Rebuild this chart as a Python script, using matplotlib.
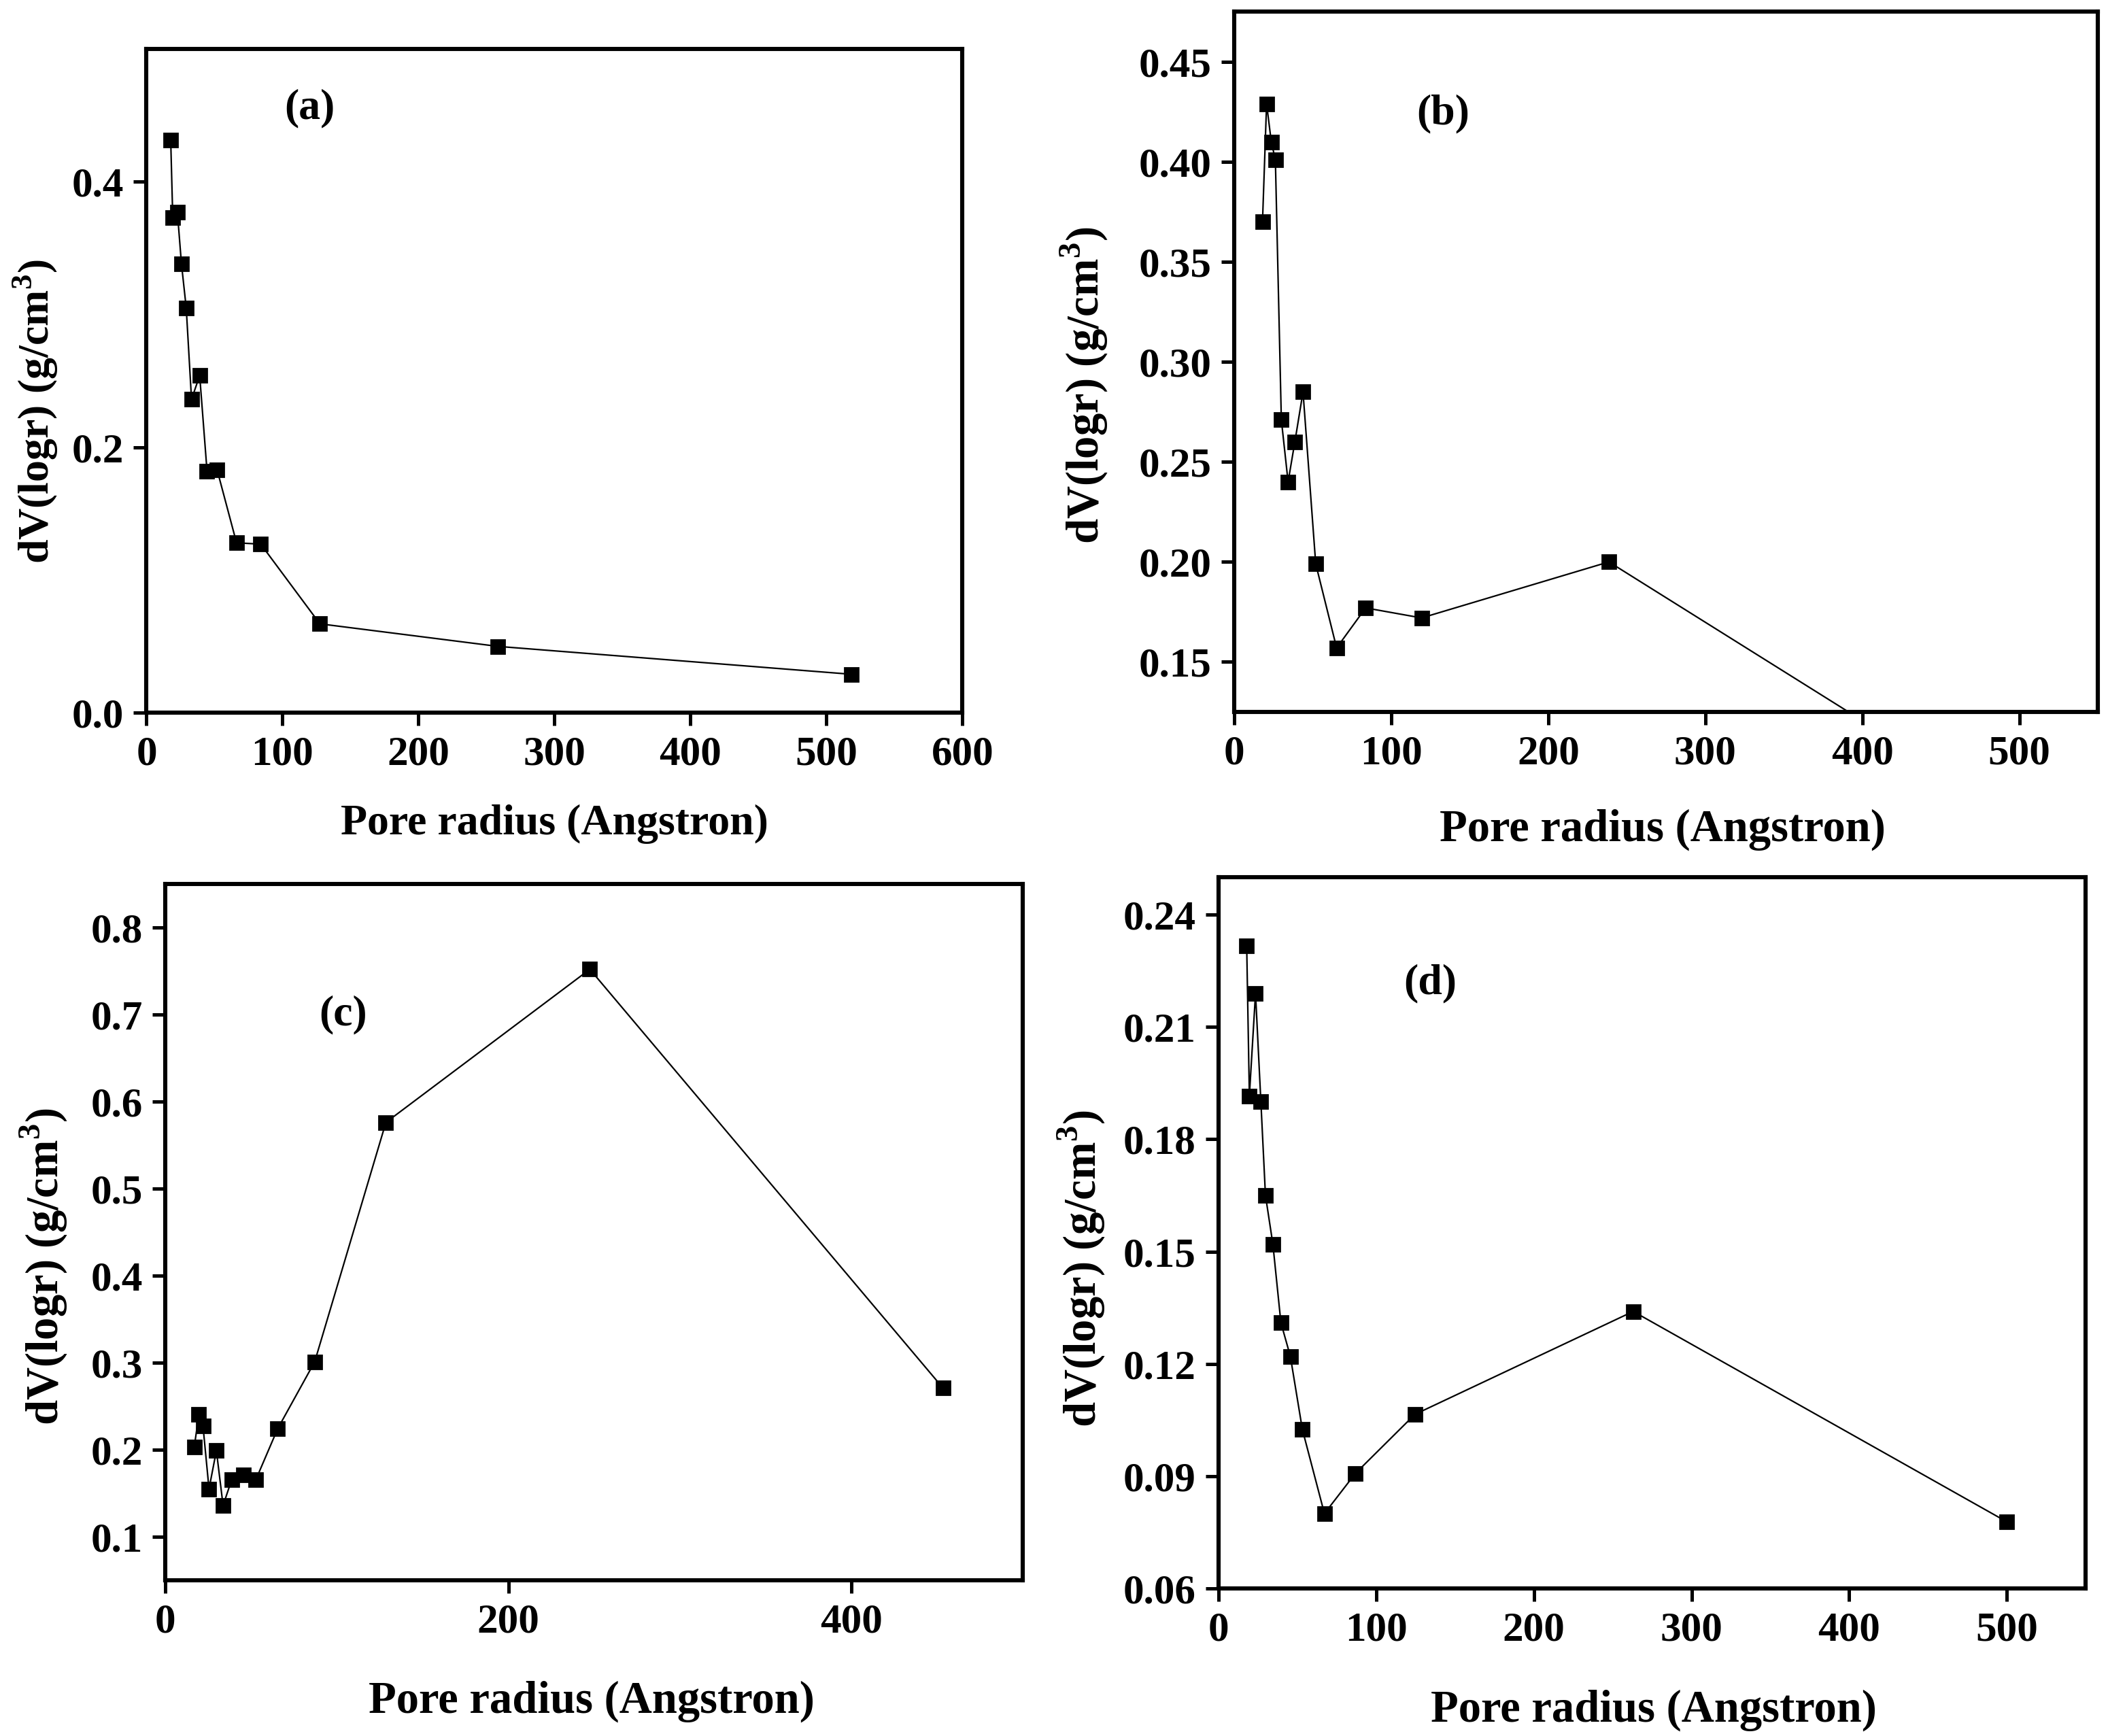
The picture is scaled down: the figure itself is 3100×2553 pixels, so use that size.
import matplotlib
matplotlib.use("Agg")
import matplotlib.pyplot as plt

plt.rcParams['font.family'] = ['Liberation Serif', 'DejaVu Serif']
plt.rcParams['font.weight'] = 'bold'
plt.rcParams['mathtext.fontset'] = 'custom'
plt.rcParams['mathtext.rm'] = 'Liberation Serif:bold'
plt.rcParams['mathtext.bf'] = 'Liberation Serif:bold'

# (a)
xa = [17.8, 19.3, 22.7, 25.7, 29.2, 33.1, 39.1, 44.5, 51.9, 66.2, 84.0, 127.5, 258.5, 518.5]
ya = [0.431, 0.373, 0.377, 0.338, 0.305, 0.236, 0.254, 0.182, 0.183, 0.128, 0.127, 0.067, 0.050, 0.029]
# (b)  last point lies below the visible range
xb = [18.0, 20.6, 23.6, 26.2, 30.0, 34.3, 38.6, 43.8, 51.9, 65.2, 83.7, 119.3, 238.6, 495.0]
yb = [0.370, 0.429, 0.410, 0.401, 0.271, 0.240, 0.260, 0.285, 0.199, 0.157, 0.177, 0.172, 0.200, 0.074]
# (c)
xc = [16.9, 19.6, 22.0, 25.5, 29.8, 33.7, 38.8, 45.5, 52.9, 65.5, 87.1, 128.6, 247.5, 453.3]
yc = [0.203, 0.241, 0.227, 0.155, 0.199, 0.136, 0.166, 0.171, 0.166, 0.224, 0.301, 0.576, 0.752, 0.271]
# (d)
xd = [17.8, 19.5, 23.4, 26.8, 29.7, 34.4, 39.5, 45.5, 53.1, 67.1, 86.7, 124.5, 263.0, 500.0]
yd = [0.2316, 0.1916, 0.219, 0.190, 0.165, 0.152, 0.131, 0.122, 0.1025, 0.080, 0.0907, 0.1065, 0.134, 0.0778]

xlabel = "Pore radius (Angstron)"
ylabel = r"dV(logr) (g/cm$^3$)"

W, H = 3100, 2553
fig = plt.figure(figsize=(15.5, 12.765), dpi=200)

panels = [
    # x, y, rect, xlim, xticks, ylim, yticks, fmt, tag, tag pos, ylabel centre px, xlabel centre px, label size
    (xa, ya, [0.0695, 0.5894, 0.3871, 0.3825], (0, 600), range(0, 601, 100), (0, 0.5),
     [0.0, 0.2, 0.4], "%.1f", "(a)", (120, 0.455), (52, 605), (815, 1212), 23),
    (xb, yb, [0.5855, 0.5899, 0.4097, 0.4033], (0, 550), range(0, 501, 100), (0.125, 0.475),
     [0.15, 0.20, 0.25, 0.30, 0.35, 0.40, 0.45], "%.2f", "(b)", (133, 0.424), (1594, 566), (2445, 1220), 24),
    (xc, yc, [0.0784, 0.0897, 0.4069, 0.4011], (0, 500), [0, 200, 400], (0.05, 0.85),
     [0.1, 0.2, 0.3, 0.4, 0.5, 0.6, 0.7, 0.8], "%.1f", "(c)", (103.5, 0.70), (64, 1862), (870, 2502), 24),
    (xd, yd, [0.5781, 0.0850, 0.4113, 0.4097], (0, 550), range(0, 501, 100), (0.06, 0.25),
     [0.06, 0.09, 0.12, 0.15, 0.18, 0.21, 0.24], "%.2f", "(d)", (134, 0.2215), (1590, 1865), (2432, 2515), 24),
]

for x, y, rect, xlim, xt, ylim, yt, fmt, tag, tpos, ylc, xlc, ls in panels:
    ax = fig.add_axes(rect)
    ax.plot(x, y, color='black', lw=0.8, marker='s', ms=7, mfc='black', mec='black')
    ax.set_xlim(*xlim)
    ax.set_ylim(*ylim)
    ax.set_xticks(list(xt))
    ax.set_yticks(yt)
    ax.set_yticklabels([fmt % v for v in yt])
    ax.tick_params(direction='out', length=7, width=1.8, labelsize=22, pad=5)
    for s in ax.spines.values():
        s.set_linewidth(2.2)
    fig.text(xlc[0] / W, 1 - xlc[1] / H, xlabel, fontsize=ls, fontweight='bold',
             ha='center', va='center')
    fig.text(ylc[0] / W, 1 - ylc[1] / H, ylabel, fontsize=ls, fontweight='bold',
             rotation=90, ha='center', va='center')
    ax.text(tpos[0], tpos[1], tag, fontsize=23, fontweight='bold', ha='center', va='center')

fig.savefig("out.png", dpi=200)
